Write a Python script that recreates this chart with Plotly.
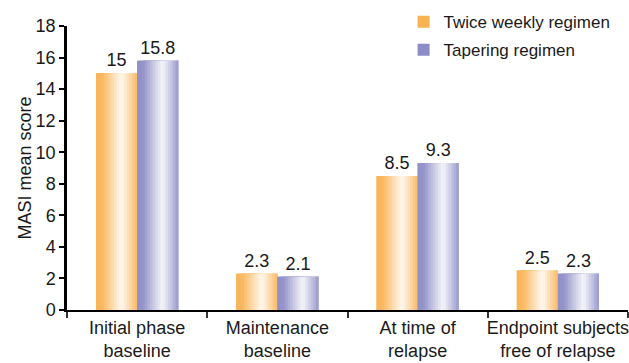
import numpy as np
import plotly.graph_objects as go

# Chart data
categories = ["Initial phase<br>baseline", "Maintenance<br>baseline",
              "At time of<br>relapse", "Endpoint subjects<br>free of relapse"]
twice_weekly = [15, 2.3, 8.5, 2.5]
tapering = [15.8, 2.1, 9.3, 2.3]
series_names = ["Twice weekly regimen", "Tapering regimen"]
y_ticks = [0, 2, 4, 6, 8, 10, 12, 14, 16, 18]

FONT = "Liberation Sans, Arial, sans-serif"
TEXT = "#1a1a1a"
BAR_W = 0.293          # width of one bar in category units
N_STRIPS = 16          # strips used to shade each bar

styles = [
    dict(color=(249, 178, 82), offset=-BAR_W),
    dict(color=(140, 140, 198), offset=0.0),
]
# fraction of white mixed into the base colour across the bar width
shade_t = [0.0, 0.15, 0.62, 1.0]
shade_w = [0.03, 0.08, 0.92, 0.12]


def mix(rgb, w):
    r, g, b = (int(round(c + (255 - c) * w)) for c in rgb)
    return f"rgb({r},{g},{b})"


fig = go.Figure()
for name, vals, st in zip(series_names, [twice_weekly, tapering], styles):
    # full bar carrying the value labels and legend entry
    fig.add_trace(go.Bar(
        x=categories, y=vals, name=name, legendgroup=name,
        width=BAR_W, offset=st["offset"],
        marker=dict(color=mix(st["color"], 0.0), line=dict(width=0)),
        text=[f"{v:g}" for v in vals], textposition="outside",
        textfont=dict(family=FONT, size=18, color=TEXT),
        constraintext="none", cliponaxis=False,
    ))
    # shading strips, each one running to the right edge of the bar
    for k in range(N_STRIPS):
        t = (k + 0.5) / N_STRIPS
        w = float(np.interp(t, shade_t, shade_w))
        start = k * BAR_W / N_STRIPS
        fig.add_trace(go.Bar(
            x=categories, y=vals, showlegend=False, legendgroup=name,
            width=BAR_W - start, offset=st["offset"] + start,
            marker=dict(color=mix(st["color"], w), line=dict(width=0)),
            hoverinfo="skip",
        ))

fig.update_layout(
    width=629, height=363,
    margin=dict(l=67, r=1, t=26, b=53),
    barmode="overlay",
    plot_bgcolor="white", paper_bgcolor="white",
    font=dict(family=FONT, size=18, color=TEXT),
    showlegend=True,
    legend=dict(
        x=0.6, y=1.077, xanchor="left", yanchor="top",
        font=dict(family=FONT, size=17, color=TEXT),
        tracegroupgap=3, bgcolor="rgba(0,0,0,0)",
    ),
    xaxis=dict(
        type="category", range=[-0.5, 3.5], automargin=False,
        showline=True, linecolor="black", linewidth=2,
        ticks="outside", tickson="boundaries", ticklen=6, tickwidth=1.5,
        tickcolor="#333", showgrid=False, zeroline=False, tickangle=0,
        tickfont=dict(family=FONT, size=18, color=TEXT),
    ),
    yaxis=dict(
        range=[0, 18], tickvals=y_ticks, automargin=False,
        showline=True, linecolor="black", linewidth=2.5,
        ticks="outside", ticklen=5, tickwidth=2, tickcolor="black",
        showgrid=False, zeroline=False,
        tickfont=dict(family=FONT, size=18, color=TEXT),
        title=dict(text="MASI mean score", standoff=0,
                   font=dict(family=FONT, size=18, color=TEXT)),
    ),
)

fig.write_html("out.html")
